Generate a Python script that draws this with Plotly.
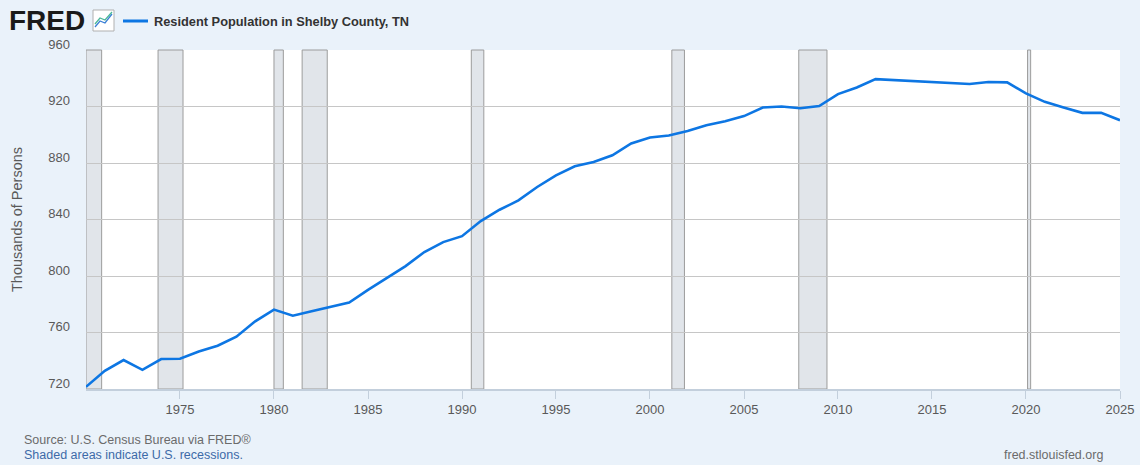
import plotly.graph_objects as go

# Resident Population in Shelby County, TN (thousands of persons), annual
years = list(range(1970, 2026))
population = [
    721.5, 732.9, 740.5, 733.6, 741.2, 741.4, 746.6, 750.6, 757.0, 767.9,
    776.2, 771.9, 775.0, 778.3, 781.2, 790.2, 798.7, 807.0, 817.0, 824.0,
    828.2, 838.9, 846.9, 853.5, 863.0, 871.3, 877.7, 880.7, 885.5, 893.8,
    898.0, 899.5, 902.7, 906.8, 909.6, 913.2, 919.3, 920.0, 918.8, 920.3,
    928.8, 933.5, 939.4, 938.7, 937.8, 937.5, 936.6, 935.9, 937.3, 937.1,
    929.3, 923.3, 919.3, 915.5, 915.5, 910.3,
]

# NBER recessions (start, end)
rec_start = ["1970-01-01", "1973-11-01", "1980-01-01", "1981-07-01",
             "1990-07-01", "2001-03-01", "2007-12-01", "2020-02-01"]
rec_end = ["1970-11-01", "1975-03-01", "1980-07-01", "1982-11-01",
           "1991-03-01", "2001-11-01", "2009-06-01", "2020-04-01"]

x_ticks = [f"{y}-01-01" for y in range(1975, 2026, 5)]
x_labels = [str(y) for y in range(1975, 2026, 5)]
y_ticks = [720, 760, 800, 840, 880, 920, 960]

dates = [f"{y}-01-01" for y in years]

fig = go.Figure()
fig.add_trace(go.Scatter(
    x=dates, y=population, mode="lines",
    line=dict(color="#0d76e3", width=2.6),
    hoverinfo="x+y", showlegend=False,
))

# recession bands (below the gridlines)
for s, e in zip(rec_start, rec_end):
    fig.add_shape(type="rect", xref="x", yref="paper", x0=s, x1=e, y0=0, y1=1,
                  fillcolor="#e1e5ea", line=dict(color="#9c9c9c", width=1),
                  layer="below")

font_main = "Liberation Sans, Arial, sans-serif"

# plot area in pixels: x 86..1120, y 50..389
def px(x):
    return (x - 86) / 1034

def py(y):
    return (389 - y) / 339

# header: FRED logo, icon, legend
fig.add_annotation(xref="paper", yref="paper", x=px(7), y=py(20), xanchor="left",
                   yanchor="middle", text="<b>FRED</b>", showarrow=False,
                   font=dict(family=font_main, size=28, color="#1a1a1a"))
fig.add_shape(type="rect", xref="paper", yref="paper",
              x0=px(93), x1=px(114), y0=py(31), y1=py(10),
              fillcolor="white", line=dict(color="#b0b0b0", width=1))
fig.add_shape(type="path", xref="paper", yref="paper",
              path="M {} {} L {} {} L {} {} L {} {}".format(
                  px(95), py(27), px(100), py(21), px(105), py(23), px(112), py(14)),
              line=dict(color="#3b7fd6", width=1.3))
fig.add_shape(type="path", xref="paper", yref="paper",
              path="M {} {} L {} {} L {} {} L {} {}".format(
                  px(95), py(24), px(100), py(18), px(105), py(20), px(112), py(12)),
              line=dict(color="#4cb89a", width=1.3))
fig.add_shape(type="line", xref="paper", yref="paper",
              x0=px(123), x1=px(148), y0=py(21), y1=py(21),
              line=dict(color="#0d76e3", width=3))
fig.add_annotation(xref="paper", yref="paper", x=px(152), y=py(21),
                   xanchor="left", yanchor="middle",
                   text="<b>Resident Population in Shelby County, TN</b>", showarrow=False,
                   font=dict(family=font_main, size=12.8, color="#333333"))

# footer
fig.add_annotation(xref="paper", yref="paper", x=px(22), y=py(440),
                   xanchor="left", yanchor="middle", showarrow=False,
                   text="Source: U.S. Census Bureau via FRED®",
                   font=dict(family=font_main, size=12.5, color="#6b6b6b"))
fig.add_annotation(xref="paper", yref="paper", x=px(22), y=py(455),
                   xanchor="left", yanchor="middle", showarrow=False,
                   text="Shaded areas indicate U.S. recessions.",
                   font=dict(family=font_main, size=12.5, color="#3d6aa8"))
fig.add_annotation(xref="paper", yref="paper", x=px(1105), y=py(455),
                   xanchor="right", yanchor="middle", showarrow=False,
                   text="fred.stlouisfed.org",
                   font=dict(family=font_main, size=12.5, color="#6b6b6b"))

fig.update_layout(
    width=1140, height=465,
    margin=dict(l=86, r=20, t=50, b=76),
    paper_bgcolor="#eaf2fa", plot_bgcolor="white",
    font=dict(family=font_main, color="#595959"),
    xaxis=dict(
        type="date", range=["1970-01-01", "2025-01-01"],
        tickvals=x_ticks, ticktext=x_labels, automargin=False,
        showgrid=False, zeroline=False,
        showline=True, linecolor="#c3cfdc", linewidth=1.5,
        ticks="outside", ticklen=8, tickcolor="#c3cfdc", tickwidth=1,
        tickfont=dict(size=13, color="#595959"),
    ),
    yaxis=dict(
        range=[720, 960], tickvals=y_ticks, automargin=False,
        showgrid=True, gridcolor="#c6c6c6", gridwidth=1.3,
        zeroline=False, showline=False, ticks="",
        tickfont=dict(size=13, color="#595959"),
        ticklabelshift=-6, ticklabelstandoff=15,
        title=dict(text="Thousands of Persons", standoff=22,
                   font=dict(size=14.5, color="#595959")),
    ),
)

fig.write_html("out.html", config={"displayModeBar": False},
               post_script="document.body.style.margin='0';")
